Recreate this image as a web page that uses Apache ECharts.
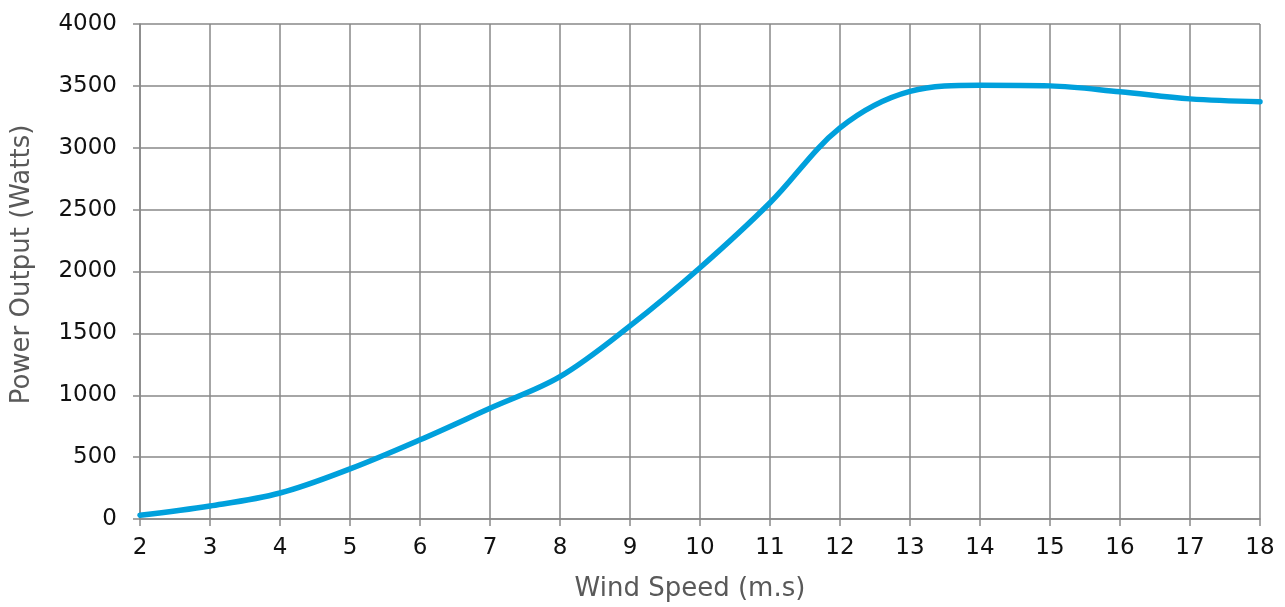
<!DOCTYPE html>
<html>
<head>
<meta charset="utf-8">
<script src="https://cdn.jsdelivr.net/npm/echarts@6/dist/echarts.min.js"></script>
<style>html,body{margin:0;padding:0;background:#fff}#c{width:1285px;height:607px}</style>
</head>
<body>
<div id="c"></div>
<script>
var windSpeed = [2, 3, 4, 5, 6, 7, 8, 9, 10, 11, 12, 13, 14, 15, 16, 17, 18];
var powerOutput = [30, 105, 210, 405, 640, 895, 1150, 1560, 2030, 2555, 3160, 3455, 3505, 3500, 3452, 3395, 3372];
var xTicks = [2, 18, 1];
var yTicks = [0, 4000, 500];

var gridColor = '#898989';
var font = 'DejaVu Sans';
var chart = echarts.init(document.getElementById('c'));
chart.setOption({
  animation: false,
  grid: {left: 140, right: 25, top: 24, bottom: 87},
  xAxis: {
    type: 'value', min: xTicks[0], max: xTicks[1], interval: xTicks[2],
    name: 'Wind Speed (m.s)', nameLocation: 'middle', nameGap: 57,
    nameTextStyle: {color: '#595959', fontSize: 26, fontFamily: font, padding: [0, 20, 0, 0]},
    axisLine: {show: true, lineStyle: {color: gridColor, width: 1.5}},
    axisTick: {show: true, length: 7, lineStyle: {color: gridColor, width: 1.5}},
    axisLabel: {color: '#111', fontSize: 23, fontFamily: font, margin: 18},
    splitLine: {show: true, lineStyle: {color: gridColor, width: 1.5}}
  },
  yAxis: {
    type: 'value', min: yTicks[0], max: yTicks[1], interval: yTicks[2],
    name: 'Power Output (Watts)', nameLocation: 'middle', nameGap: 105,
    nameTextStyle: {color: '#595959', fontSize: 26, fontFamily: font, padding: [0, 0, 0, 14]},
    axisLine: {show: true, lineStyle: {color: gridColor, width: 1.5}},
    axisTick: {show: true, length: 7, lineStyle: {color: gridColor, width: 1.5}},
    axisLabel: {color: '#111', fontSize: 23, fontFamily: font, margin: 23,
      formatter: function (v) { return String(v); }},
    splitLine: {show: true, lineStyle: {color: gridColor, width: 1.5}}
  },
  series: [{
    type: 'line',
    data: windSpeed.map(function (x, i) { return [x, powerOutput[i]]; }),
    smooth: 0.35,
    showSymbol: false,
    lineStyle: {color: '#00A0DC', width: 5.5, cap: 'round'}
  }]
});
</script>
</body>
</html>
